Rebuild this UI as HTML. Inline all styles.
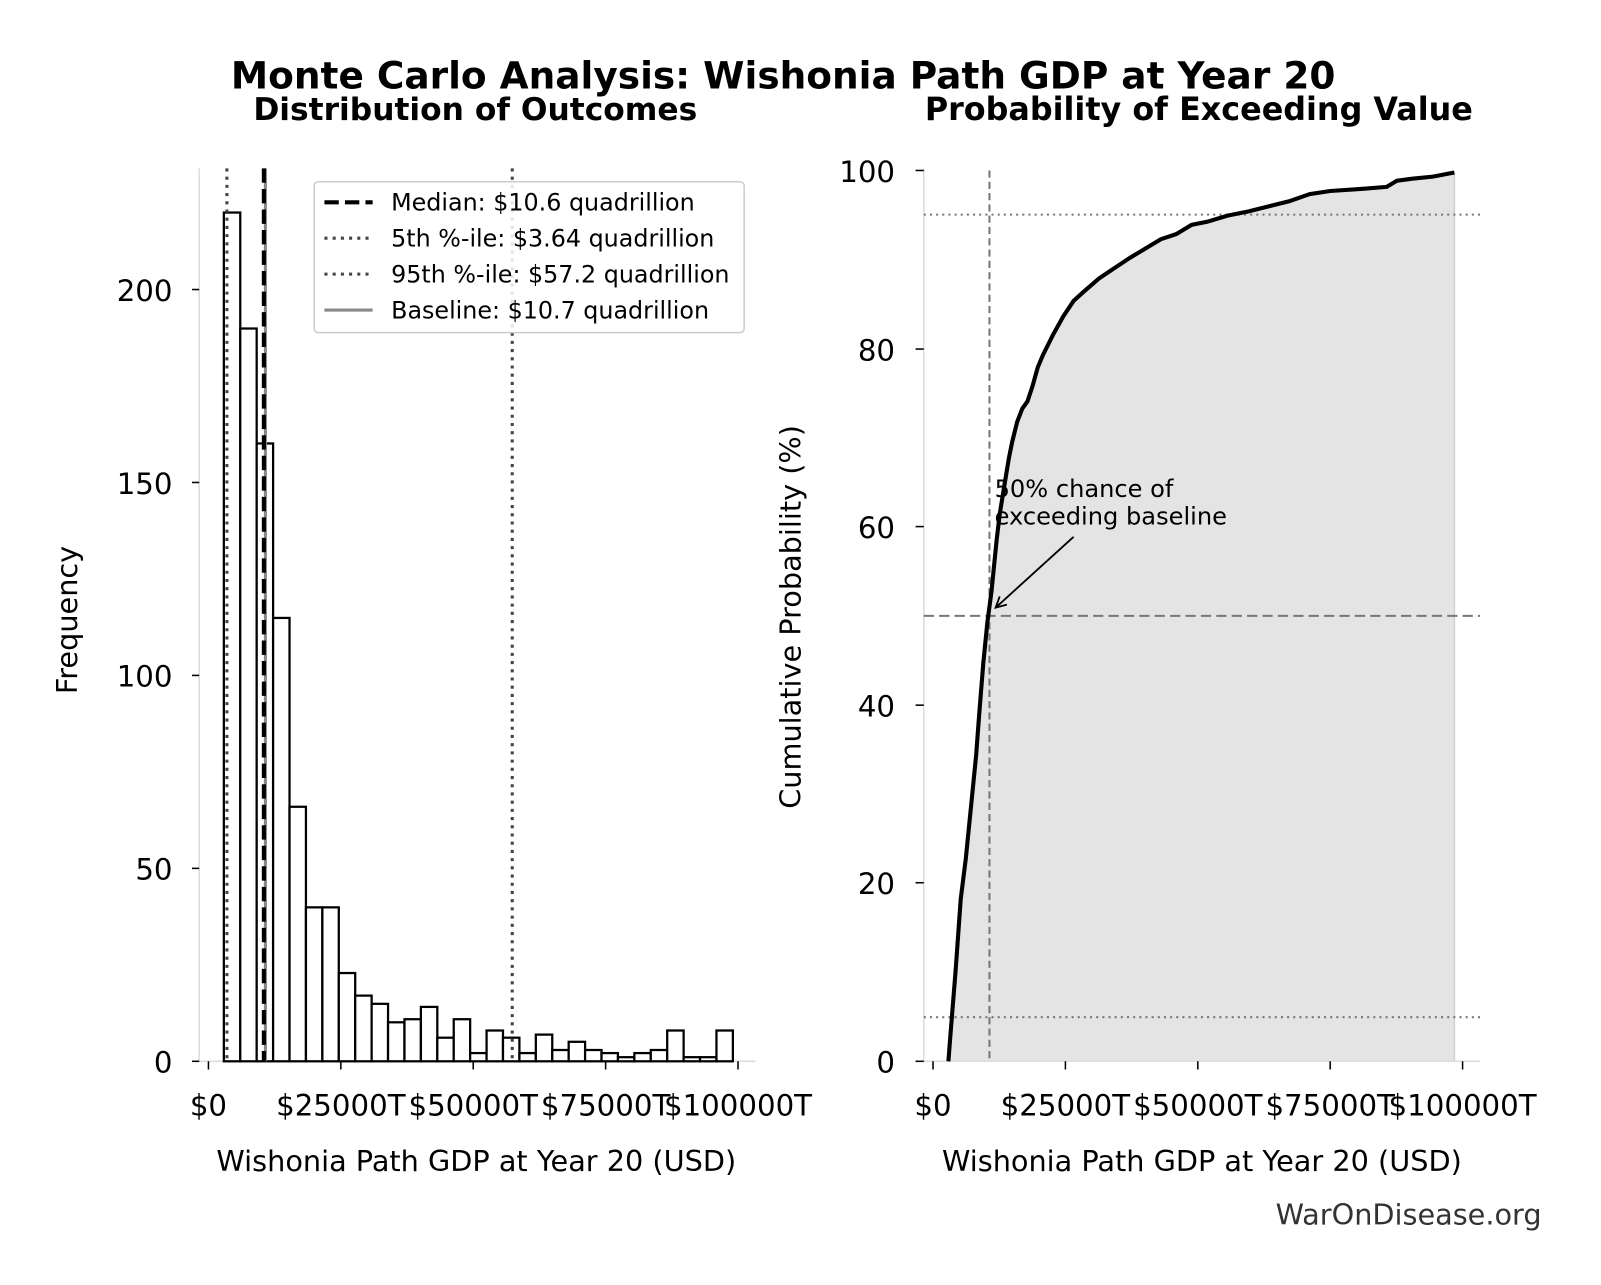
<!DOCTYPE html>
<html><head><meta charset="utf-8"><style>
body{margin:0;background:#fff}
text{font-family:"DejaVu Sans","Liberation Sans",sans-serif;fill:#000}
</style></head><body>
<svg width="1601" height="1280" viewBox="0 0 1601 1280" xmlns="http://www.w3.org/2000/svg">
<rect width="1601" height="1280" fill="#fff"/>
<g transform="translate(-4,-4) scale(1.0263)">
<text x="767" y="90" font-size="36.5" font-weight="bold" text-anchor="middle">Monte Carlo Analysis: Wishonia Path GDP at Year 20</text>
<text x="467" y="121" font-size="30.5" font-weight="bold" text-anchor="middle">Distribution of Outcomes</text>
<text x="1172" y="121" font-size="31" font-weight="bold" text-anchor="middle">Probability of Exceeding Value</text>

<!-- LEFT -->
<line x1="198" y1="168" x2="198" y2="1038" stroke="#ddd" stroke-width="1.5"/>
<line x1="198" y1="1038" x2="740" y2="1038" stroke="#ddd" stroke-width="1.5"/>
<g stroke="#000" stroke-width="1.5">
<line x1="191" y1="1038" x2="198" y2="1038"/><line x1="191" y1="850" x2="198" y2="850"/><line x1="191" y1="662" x2="198" y2="662"/><line x1="191" y1="474" x2="198" y2="474"/><line x1="191" y1="286" x2="198" y2="286"/>
<line x1="207" y1="1038" x2="207" y2="1046"/><line x1="336" y1="1038" x2="336" y2="1046"/><line x1="465" y1="1038" x2="465" y2="1046"/><line x1="594" y1="1038" x2="594" y2="1046"/><line x1="723" y1="1038" x2="723" y2="1046"/>
</g>
<g font-size="28.5" text-anchor="end">
<text x="172" y="1049">0</text><text x="172" y="861">50</text><text x="172" y="673">100</text><text x="172" y="485">150</text><text x="172" y="297">200</text>
</g>
<g font-size="28.5" text-anchor="middle">
<text x="207" y="1091">$0</text><text x="336" y="1091">$25000T</text><text x="465" y="1091">$50000T</text><text x="594" y="1091">$75000T</text><text x="723" y="1091">$100000T</text>
</g>
<text x="468" y="1145" font-size="28" text-anchor="middle">Wishonia Path GDP at Year 20 (USD)</text>
<text transform="translate(79,608) rotate(-90)" font-size="28" text-anchor="middle">Frequency</text>
<g fill="#fff" stroke="#000" stroke-width="2.2">
<rect x="222" y="211" width="16" height="827"/>
<rect x="238" y="324" width="16" height="714"/>
<rect x="254" y="436" width="16" height="602"/>
<rect x="270" y="606" width="16" height="432"/>
<rect x="286" y="790" width="16" height="248"/>
<rect x="302" y="888" width="16" height="150"/>
<rect x="318" y="888" width="16" height="150"/>
<rect x="334" y="952" width="16" height="86"/>
<rect x="350" y="974" width="16" height="64"/>
<rect x="366" y="982" width="16" height="56"/>
<rect x="382" y="1000" width="16" height="38"/>
<rect x="398" y="997" width="16" height="41"/>
<rect x="414" y="985" width="16" height="53"/>
<rect x="430" y="1015" width="16" height="23"/>
<rect x="446" y="997" width="16" height="41"/>
<rect x="462" y="1030" width="16" height="8"/>
<rect x="478" y="1008" width="16" height="30"/>
<rect x="494" y="1015" width="16" height="23"/>
<rect x="510" y="1030" width="16" height="8"/>
<rect x="526" y="1012" width="16" height="26"/>
<rect x="542" y="1027" width="16" height="11"/>
<rect x="558" y="1019" width="16" height="19"/>
<rect x="574" y="1027" width="16" height="11"/>
<rect x="590" y="1030" width="16" height="8"/>
<rect x="606" y="1034" width="16" height="4"/>
<rect x="622" y="1030" width="16" height="8"/>
<rect x="638" y="1027" width="16" height="11"/>
<rect x="654" y="1008" width="16" height="30"/>
<rect x="670" y="1034" width="16" height="4"/>
<rect x="686" y="1034" width="16" height="4"/>
<rect x="702" y="1008" width="16" height="30"/>
</g>
<line x1="225" y1="168" x2="225" y2="1038" stroke="#444" stroke-width="3" stroke-dasharray="3,5"/>
<line x1="503" y1="168" x2="503" y2="1038" stroke="#444" stroke-width="3" stroke-dasharray="3,5"/>
<line x1="262.5" y1="168" x2="262.5" y2="1038" stroke="#888" stroke-width="3"/>
<line x1="261" y1="168" x2="261" y2="1038" stroke="#000" stroke-width="4" stroke-dasharray="14,6"/>
<rect x="310" y="181" width="419" height="147" rx="4" fill="#fff" fill-opacity="0.85" stroke="#ccc" stroke-width="1.5"/>
<line x1="320" y1="201" x2="367" y2="201" stroke="#000" stroke-width="4" stroke-dasharray="14,6"/>
<line x1="320" y1="236" x2="367" y2="236" stroke="#444" stroke-width="3" stroke-dasharray="3,5"/>
<line x1="320" y1="271" x2="367" y2="271" stroke="#444" stroke-width="3" stroke-dasharray="3,5"/>
<line x1="320" y1="306" x2="367" y2="306" stroke="#888" stroke-width="3"/>
<g font-size="23.2">
<text x="385" y="209">Median: $10.6 quadrillion</text>
<text x="385" y="244">5th %-ile: $3.64 quadrillion</text>
<text x="385" y="279">95th %-ile: $57.2 quadrillion</text>
<text x="385" y="314">Baseline: $10.7 quadrillion</text>
</g>

<!-- RIGHT -->
<path d="M928,1038 L930,1012 L935,950 L940,880 L945,840 L950,790 L955,740 L958,700 L962,650 L966,610 L970,580 L975,530 L978,505 L982,480 L987,450 L990,435 L995,415 L1000,402 L1005,395 L1010,380 L1015,362 L1020,350 L1030,330 L1040,312 L1050,297 L1060,288 L1075,275 L1090,265 L1105,255 L1120,246 L1135,237 L1150,232 L1165,223 L1180,220 L1200,214 L1220,210 L1240,205 L1260,200 L1280,193 L1300,190 L1330,188 L1355,186 L1365,180 L1380,178 L1400,176 L1421,172 L1421,1038 Z" fill="#e4e4e4"/>
<line x1="1421" y1="172" x2="1421" y2="1038" stroke="#d0d0d0" stroke-width="1.5"/>
<line x1="904" y1="168" x2="904" y2="1038" stroke="#ddd" stroke-width="1.5"/>
<line x1="904" y1="1038" x2="1446" y2="1038" stroke="#ddd" stroke-width="1.5"/>
<g stroke="#000" stroke-width="1.5">
<line x1="896" y1="1038" x2="904" y2="1038"/><line x1="896" y1="864" x2="904" y2="864"/><line x1="896" y1="691" x2="904" y2="691"/><line x1="896" y1="517" x2="904" y2="517"/><line x1="896" y1="344" x2="904" y2="344"/><line x1="896" y1="170" x2="904" y2="170"/>
<line x1="913" y1="1038" x2="913" y2="1046"/><line x1="1042" y1="1038" x2="1042" y2="1046"/><line x1="1171" y1="1038" x2="1171" y2="1046"/><line x1="1300" y1="1038" x2="1300" y2="1046"/><line x1="1429" y1="1038" x2="1429" y2="1046"/>
</g>
<g font-size="28.5" text-anchor="end">
<text x="876" y="1049">0</text><text x="876" y="875">20</text><text x="876" y="702">40</text><text x="876" y="528">60</text><text x="876" y="355">80</text><text x="876" y="181">100</text>
</g>
<g font-size="28.5" text-anchor="middle">
<text x="913" y="1091">$0</text><text x="1042" y="1091">$25000T</text><text x="1171" y="1091">$50000T</text><text x="1300" y="1091">$75000T</text><text x="1429" y="1091">$100000T</text>
</g>
<text x="1175" y="1145" font-size="28" text-anchor="middle">Wishonia Path GDP at Year 20 (USD)</text>
<text transform="translate(784,605) rotate(-90)" font-size="28" text-anchor="middle">Cumulative Probability (%)</text>
<line x1="904" y1="213" x2="1446" y2="213" stroke="#777" stroke-width="2" stroke-dasharray="2,4"/>
<line x1="904" y1="995" x2="1446" y2="995" stroke="#777" stroke-width="2" stroke-dasharray="2,4"/>
<line x1="904" y1="604" x2="1446" y2="604" stroke="#777" stroke-width="2" stroke-dasharray="10,5"/>
<line x1="968" y1="170" x2="968" y2="1038" stroke="#777" stroke-width="2" stroke-dasharray="7,4"/>
<path d="M928,1038 L930,1012 L935,950 L940,880 L945,840 L950,790 L955,740 L958,700 L962,650 L966,610 L970,580 L975,530 L978,505 L982,480 L987,450 L990,435 L995,415 L1000,402 L1005,395 L1010,380 L1015,362 L1020,350 L1030,330 L1040,312 L1050,297 L1060,288 L1075,275 L1090,265 L1105,255 L1120,246 L1135,237 L1150,232 L1165,223 L1180,220 L1200,214 L1220,210 L1240,205 L1260,200 L1280,193 L1300,190 L1330,188 L1355,186 L1365,180 L1380,178 L1400,176 L1421,172" fill="none" stroke="#000" stroke-width="4"/>
<g font-size="23.5">
<text x="973" y="488">50% chance of</text>
<text x="973" y="515">exceeding baseline</text>
</g>
<line x1="1050" y1="527" x2="974" y2="596" stroke="#000" stroke-width="1.8"/>
<path d="M985,593 L974,596 L978,585" fill="none" stroke="#000" stroke-width="1.8"/>
<text x="1506" y="1197" font-size="28" text-anchor="end" style="fill:#333">WarOnDisease.org</text>
</g>
</svg>
</body></html>
